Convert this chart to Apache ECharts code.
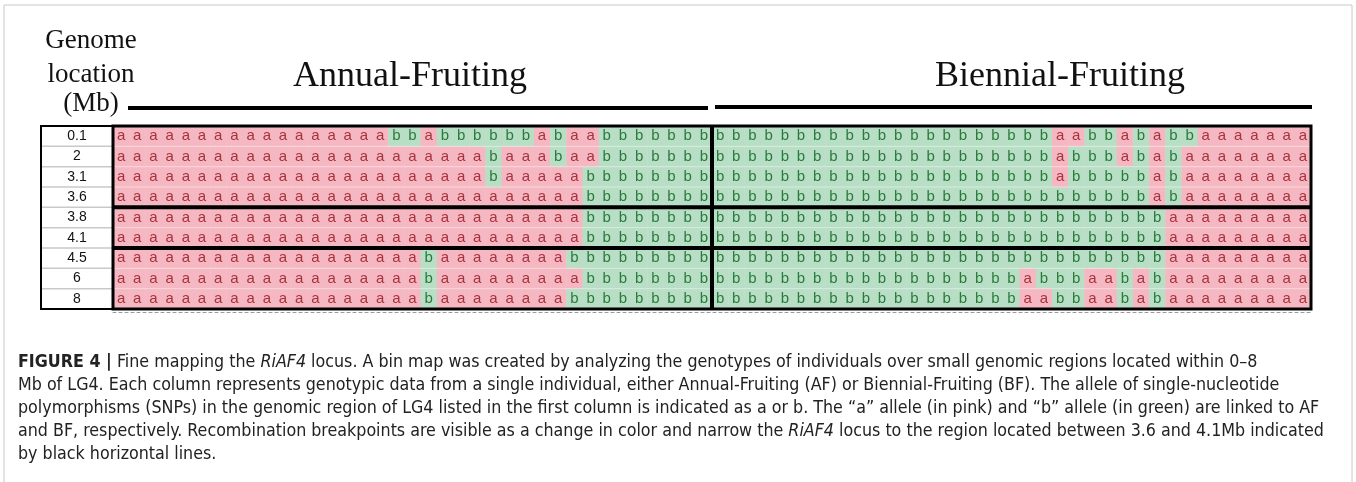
<!DOCTYPE html>
<html>
<head>
<meta charset="utf-8">
<script src="https://cdn.jsdelivr.net/npm/echarts@6/dist/echarts.min.js"></script>
<style>
html,body{margin:0;padding:0;background:#fff;}
#c{width:1356px;height:482px;}
</style>
</head>
<body>
<div id="c"></div>
<script>
// ---------- DATA ----------
const rowLabels = ['0.1', '2', '3.1', '3.6', '3.8', '4.1', '4.5', '6', '8'];
const groupNames = ['Annual-Fruiting', 'Biennial-Fruiting'];
const headerLines = ['Genome', 'location', '(Mb)'];
// genotype calls per row, Annual-Fruiting individuals (37 columns)
const annualCalls = [
  'aaaaaaaaaaaaaaaaabbabbbbbbabaabbbbbbb',
  'aaaaaaaaaaaaaaaaaaaaaaabaaabaabbbbbbb',
  'aaaaaaaaaaaaaaaaaaaaaaabaaaaabbbbbbbb',
  'aaaaaaaaaaaaaaaaaaaaaaaaaaaaabbbbbbbb',
  'aaaaaaaaaaaaaaaaaaaaaaaaaaaaabbbbbbbb',
  'aaaaaaaaaaaaaaaaaaaaaaaaaaaaabbbbbbbb',
  'aaaaaaaaaaaaaaaaaaabaaaaaaaabbbbbbbbb',
  'aaaaaaaaaaaaaaaaaaabaaaaaaaaabbbbbbbb',
  'aaaaaaaaaaaaaaaaaaabaaaaaaaabbbbbbbbb'
];
// genotype calls per row, Biennial-Fruiting individuals (37 columns)
const biennialCalls = [
  'bbbbbbbbbbbbbbbbbbbbbaabbababbaaaaaaa',
  'bbbbbbbbbbbbbbbbbbbbbabbbababaaaaaaaa',
  'bbbbbbbbbbbbbbbbbbbbbabbbbbabaaaaaaaa',
  'bbbbbbbbbbbbbbbbbbbbbbbbbbbabaaaaaaaa',
  'bbbbbbbbbbbbbbbbbbbbbbbbbbbbaaaaaaaaa',
  'bbbbbbbbbbbbbbbbbbbbbbbbbbbbaaaaaaaaa',
  'bbbbbbbbbbbbbbbbbbbbbbbbbbbbaaaaaaaaa',
  'bbbbbbbbbbbbbbbbbbbabbbaababaaaaaaaaa',
  'bbbbbbbbbbbbbbbbbbbaabbaababaaaaaaaaa'
];
const captionLines = [
  '{b|FIGURE 4 |} Fine mapping the {i|RiAF4} locus. A bin map was created by analyzing the genotypes of individuals over small genomic regions located within 0\u20138',
  'Mb of LG4. Each column represents genotypic data from a single individual, either Annual-Fruiting (AF) or Biennial-Fruiting (BF). The allele of single-nucleotide',
  'polymorphisms (SNPs) in the genomic region of LG4 listed in the first column is indicated as a or b. The \u201ca\u201d allele (in pink) and \u201cb\u201d allele (in green) are linked to AF',
  'and BF, respectively. Recombination breakpoints are visible as a change in color and narrow the {i|RiAF4} locus to the region located between 3.6 and 4.1Mb indicated',
  'by black horizontal lines.'
];

// ---------- BUILD ----------
const nA = annualCalls[0].length, nB = biennialCalls[0].length, nCols = nA + nB;
const colCats = [];
for (let i = 0; i < nCols; i++) colCats.push(i < nA ? 'AF' + (i + 1) : 'BF' + (i - nA + 1));
const cells = [];
rowLabels.forEach((r, ri) => {
  const s = annualCalls[ri] + biennialCalls[ri];
  for (let ci = 0; ci < s.length; ci++) cells.push([ci, ri, s[ci] === 'b' ? 1 : 0]);
});

// layout
const G = {left: 113, top: 126, width: 1198, height: 183};
const PINK = '#f5b8c2', GREEN = '#b8dec5', RED_T = '#a8323c', GREEN_T = '#2b7a3d';

const chart = echarts.init(document.getElementById('c'), null, {renderer: 'canvas'});

function hasFont(f) {
  const cv = document.createElement('canvas').getContext('2d');
  const t = 'abcdefghijklmnopqrstuvwxyz ABCDEFGHIJ 0123456789';
  cv.font = '20px monospace'; const w1 = cv.measureText(t).width;
  cv.font = '20px "' + f + '", monospace'; const w2 = cv.measureText(t).width;
  return Math.abs(w1 - w2) > 0.5;
}
const capFont = hasFont('Liberation Sans Narrow') ? 'Liberation Sans Narrow' : (hasFont('DejaVu Sans Condensed') ? 'DejaVu Sans Condensed' : 'Roboto');
const capSize = 17.7;

const colW = G.width / nCols, rowH = G.height / rowLabels.length;
const X0 = G.left, X1 = G.left + G.width, Y0 = G.top, Y1 = G.top + G.height;
const xMid = G.left + nA * colW;
const sepRows = [4, 6];

const graphics = [];
graphics.push({type: 'polyline', shape: {points: [[4, 482], [4, 5], [1352, 5], [1352, 482]]}, style: {stroke: '#c8c8c8', lineWidth: 1, fill: null}, silent: true});
const hdrY = [41, 75, 104];
headerLines.forEach((t, i) => graphics.push({type: 'text', x: 91, y: hdrY[i], style: {text: t, font: '27px "Liberation Serif"', fill: '#111', align: 'center', verticalAlign: 'middle'}}));
const titleX = [410, 1060];
groupNames.forEach((g, i) => {
  graphics.push({type: 'text', x: titleX[i], y: 77, style: {text: g, font: '36px "Liberation Serif"', fill: '#111', align: 'center', verticalAlign: 'middle'}});
});
graphics.push({type: 'line', shape: {x1: 128, y1: 108, x2: xMid - 4, y2: 108}, style: {stroke: '#000', lineWidth: 4}});
graphics.push({type: 'line', shape: {x1: xMid + 3, y1: 107, x2: X1 + 1, y2: 107}, style: {stroke: '#000', lineWidth: 4}});
graphics.push({type: 'rect', shape: {x: 41, y: Y0, width: X0 - 41, height: G.height}, style: {fill: '#fff', stroke: '#000', lineWidth: 2}, z: 0});
for (let r = 1; r < rowLabels.length; r++) {
  graphics.push({type: 'line', shape: {x1: 42, y1: Y0 + r * rowH, x2: X0, y2: Y0 + r * rowH}, style: {stroke: '#c9c9c9', lineWidth: 1.5}, z: 1});
}
for (let r = 1; r < rowLabels.length; r++) {
  if (sepRows.indexOf(r) >= 0) continue;
  graphics.push({type: 'line', shape: {x1: X0, y1: Y0 + r * rowH, x2: X1, y2: Y0 + r * rowH}, style: {stroke: 'rgba(255,255,255,0.45)', lineWidth: 1}, z: 5});
}
graphics.push({type: 'rect', shape: {x: X0, y: Y0, width: G.width, height: G.height}, style: {fill: null, stroke: '#000', lineWidth: 3}, z: 10});
graphics.push({type: 'line', shape: {x1: xMid, y1: Y0, x2: xMid, y2: Y1}, style: {stroke: '#000', lineWidth: 4}, z: 10});
sepRows.forEach(r => graphics.push({type: 'line', shape: {x1: X0, y1: Y0 + r * rowH, x2: X1, y2: Y0 + r * rowH}, style: {stroke: '#000', lineWidth: 4}, z: 10}));
const capY0 = 362, capDY = 23;
captionLines.forEach((t, i) => graphics.push({
  type: 'text', x: 18, y: capY0 + i * capDY,
  style: {text: t, font: capSize + 'px "' + capFont + '"', fill: '#222', align: 'left', verticalAlign: 'middle',
    rich: {b: {fontWeight: 'bold', fontSize: capSize, fontFamily: capFont, fill: '#222'}, i: {fontStyle: 'italic', fontSize: capSize, fontFamily: capFont, fill: '#222'}}}
}));

const option = {
  animation: false,
  backgroundColor: '#fff',
  grid: {left: G.left, top: G.top, width: G.width, height: G.height, containLabel: false},
  xAxis: {
    type: 'category', data: colCats, position: 'bottom', offset: 3,
    axisLine: {show: true, lineStyle: {color: '#9a9a9a', type: [3, 3], width: 1}},
    axisTick: {show: false}, axisLabel: {show: false}, splitLine: {show: false}
  },
  yAxis: {
    type: 'category', data: rowLabels, inverse: true,
    axisLine: {show: false}, axisTick: {show: false}, splitLine: {show: false},
    axisLabel: {show: true, margin: X0 - 77, align: 'center', color: '#111', fontSize: 14, fontFamily: 'Liberation Sans'}
  },
  series: [{
    type: 'custom',
    data: cells,
    z: 3,
    renderItem: function (params, api) {
      const v = api.value(2);
      const c = api.coord([api.value(0), api.value(1)]);
      const s = api.size([1, 1]);
      return {
        type: 'group',
        children: [
          {type: 'rect', shape: {x: c[0] - s[0] / 2, y: c[1] - s[1] / 2, width: s[0] + 0.5, height: s[1] + 0.5}, style: {fill: v ? GREEN : PINK}},
          {type: 'text', style: {text: v ? 'b' : 'a', x: c[0], y: c[1], align: 'center', verticalAlign: 'middle', fill: v ? GREEN_T : RED_T, font: '15px "Liberation Sans"'}}
        ]
      };
    }
  }],
  graphic: graphics
};
chart.setOption(option);
</script>
</body>
</html>
